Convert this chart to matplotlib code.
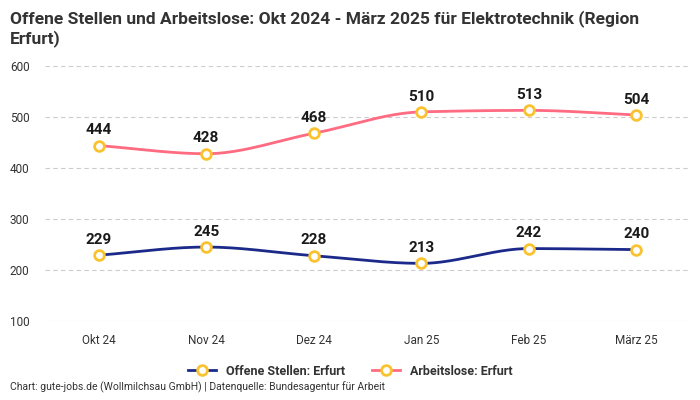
import matplotlib
matplotlib.use("Agg")
import matplotlib.pyplot as plt
import numpy as np
from matplotlib.lines import Line2D

months = ["Okt 24", "Nov 24", "Dez 24", "Jan 25", "Feb 25", "März 25"]
offene_stellen = [229, 245, 228, 213, 242, 240]
arbeitslose = [444, 428, 468, 510, 513, 504]

plt.rcParams['font.family'] = ['Roboto', 'DejaVu Sans']

BLUE = '#1b2a8a'
PINK = '#ff6b81'
YELLOW = '#f9c22e'


def monotone(x, y, n=40):
    # monotone cubic (Fritsch-Carlson) fuer die glatte Linie
    x = np.asarray(x, float)
    y = np.asarray(y, float)
    h = np.diff(x)
    d = np.diff(y) / h
    m = np.zeros_like(y)
    m[0], m[-1] = d[0], d[-1]
    for i in range(1, len(y) - 1):
        if d[i - 1] * d[i] <= 0:
            m[i] = 0
        else:
            m[i] = 3 * (h[i - 1] + h[i]) / ((2 * h[i] + h[i - 1]) / d[i - 1] + (h[i] + 2 * h[i - 1]) / d[i])
    xs, ys = [], []
    for i in range(len(x) - 1):
        t = np.linspace(0, 1, n)
        h00 = 2 * t**3 - 3 * t**2 + 1
        h10 = t**3 - 2 * t**2 + t
        h01 = -2 * t**3 + 3 * t**2
        h11 = t**3 - t**2
        xs.append(x[i] + t * h[i])
        ys.append(h00 * y[i] + h10 * h[i] * m[i] + h01 * y[i + 1] + h11 * h[i] * m[i + 1])
    return np.concatenate(xs), np.concatenate(ys)


fig = plt.figure(figsize=(7, 4), dpi=100)
ax = fig.add_axes([0.064, 0.1975, 0.922, 0.6375])

xpos = np.arange(len(months))
for vals, col in [(offene_stellen, BLUE), (arbeitslose, PINK)]:
    sx, sy = monotone(xpos, vals)
    ax.plot(sx, sy, color=col, lw=2, zorder=2)
    ax.plot(xpos, vals, 'o', ms=7, mfc='white', mec=YELLOW, mew=2, zorder=3)
    for xi, v in zip(xpos, vals):
        ax.annotate(str(v), (xi, v), xytext=(0, 6), textcoords='offset points',
                    ha='center', va='bottom', fontsize=11, fontweight='bold', color='#1a1a1a')

ax.set_xlim(-0.5, len(months) - 0.5)
ax.set_ylim(100, 600)
ax.set_yticks([100, 200, 300, 400, 500, 600])
ax.set_xticks(xpos)
ax.set_xticklabels(months)
ax.tick_params(axis='both', length=0, labelsize=8.5, colors='#333333')
ax.tick_params(axis='x', pad=9)
ax.tick_params(axis='y', pad=11)
ax.grid(axis='y', color='#cccccc', ls=(0, (4, 3)), lw=0.8)
for s in ax.spines.values():
    s.set_visible(False)

fig.text(0.014, 0.975, "Offene Stellen und Arbeitslose: Okt 2024 - März 2025 für Elektrotechnik (Region\nErfurt)",
         ha='left', va='top', fontsize=12.5, fontweight='bold', color='#333333', linespacing=1.25)

handles = [Line2D([0], [0], color=BLUE, lw=2, marker='o', ms=7, mfc='white', mec=YELLOW, mew=2),
           Line2D([0], [0], color=PINK, lw=2, marker='o', ms=7, mfc='white', mec=YELLOW, mew=2)]
leg = fig.legend(handles, ["Offene Stellen: Erfurt", "Arbeitslose: Erfurt"], loc='center',
                 bbox_to_anchor=(0.5, 0.072), ncol=2, frameon=False, fontsize=9,
                 handlelength=2.2, columnspacing=2.2)
for t in leg.get_texts():
    t.set_fontweight('bold')
    t.set_color('#333333')

fig.text(0.014, 0.017, "Chart: gute-jobs.de (Wollmilchsau GmbH) | Datenquelle: Bundesagentur für Arbeit",
         ha='left', va='bottom', fontsize=7.5, color='#333333')

fig.savefig("out.png", dpi=100)
